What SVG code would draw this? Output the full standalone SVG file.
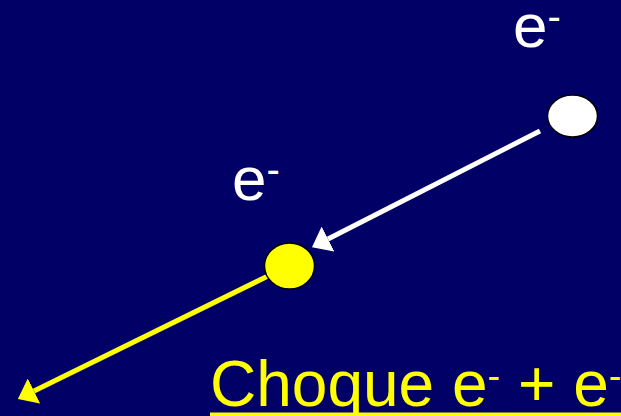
<svg xmlns="http://www.w3.org/2000/svg" width="621" height="416" viewBox="0 0 621 416">
<style>
.lbl{font-family:"Liberation Sans",Arial,sans-serif;font-size:62px}
.cap{font-family:"Liberation Sans",Arial,sans-serif;font-size:64px}
.w{fill:#FFFFFF}
.y{fill:#FFFF00}
</style>
<defs>
<marker id="ahW" markerUnits="userSpaceOnUse" viewBox="0 0 18 28" refX="0" refY="14" markerWidth="18" markerHeight="28" orient="auto"><path d="M0,0 L18,14 L0,28 z" fill="#FFFFFF"/></marker>
<marker id="ahY" markerUnits="userSpaceOnUse" viewBox="0 0 18 28" refX="0" refY="14" markerWidth="18" markerHeight="28" orient="auto"><path d="M0,0 L18,14 L0,28 z" fill="#FFFF00"/></marker>
</defs>
<rect x="0" y="0" width="621" height="416" fill="#000066"/>
<g id="connectors">
<line x1="540" y1="131" x2="328" y2="239" stroke="#FFFFFF" stroke-width="5" marker-end="url(#ahW)"/>
<line x1="268" y1="276" x2="34" y2="391" stroke="#FFFF00" stroke-width="5" marker-end="url(#ahY)"/>
</g>
<g id="electron1">
<ellipse cx="572.5" cy="116" rx="25" ry="21" fill="#FFFFFF" stroke="#000000" stroke-width="1.5"/>
<text class="lbl w" x="513" y="47">e<tspan dy="-17" font-size="40">-</tspan></text>
</g>
<g id="electron2">
<ellipse cx="289.5" cy="266" rx="25" ry="23" fill="#FFFF00" stroke="#000000" stroke-width="1.5"/>
<text class="lbl w" x="232" y="200">e<tspan dy="-17" font-size="40">-</tspan></text>
</g>
<g id="caption">
<text class="cap y" x="210" y="406">Choque e<tspan dy="-17" font-size="38">-</tspan><tspan dy="17"> + e</tspan><tspan dy="-17" font-size="38">-</tspan></text>
<rect x="210" y="412.5" width="420" height="4" fill="#FFFF00"/>
</g>
</svg>
